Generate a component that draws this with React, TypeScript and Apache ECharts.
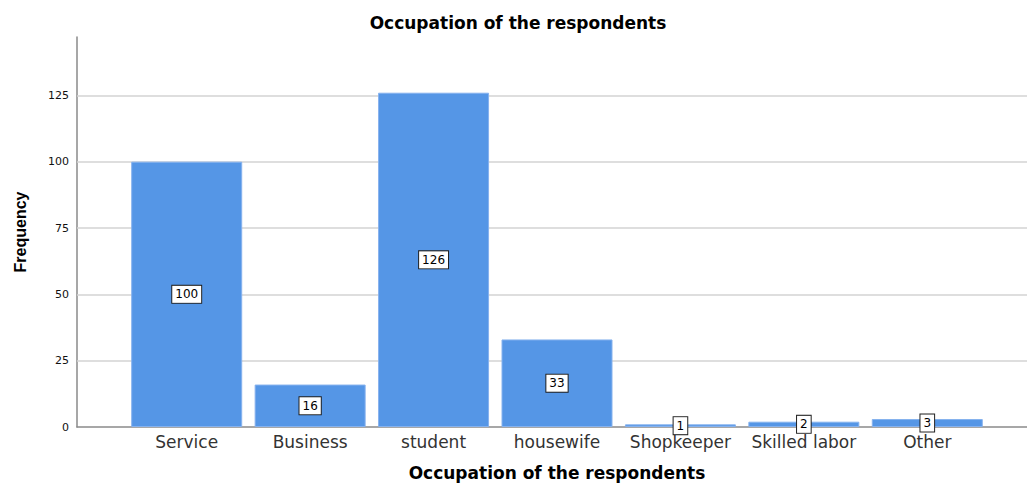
import React, { useEffect, useRef } from "react";
import * as echarts from "echarts";

const categories = ["Service", "Business", "student", "housewife", "Shopkeeper", "Skilled labor", "Other"];
const frequencies = [100, 16, 126, 33, 1, 2, 3];
const yTicks = [25, 50, 75, 100, 125];

export default function App() {
  const ref = useRef<HTMLDivElement>(null);
  useEffect(() => {
    document.body.style.margin = "0";
    const chart = echarts.init(ref.current!, null, { renderer: "svg" });
    const font = "'DejaVu Sans', sans-serif";
    const lfont = "'Liberation Sans', Arial, sans-serif";
    chart.setOption({
      animation: false,
      backgroundColor: "#fff",
      textStyle: { fontFamily: font },
      grid: [
        { left: 77, right: 0, top: 37, bottom: 56 },
        { left: 125, right: 38, top: 37, bottom: 56 },
      ],
      xAxis: [
        {
          type: "value", gridIndex: 0, min: 0, max: 1,
          axisLine: { show: true, onZero: false, lineStyle: { color: "#8a8a8a", width: 1.5 } },
          axisTick: { show: false }, axisLabel: { show: false }, splitLine: { show: false },
        },
        {
          type: "category", gridIndex: 1, data: categories,
          axisLine: { show: false }, axisTick: { show: false },
          axisLabel: { interval: 0, fontSize: 17, color: "#333", margin: 6, fontFamily: font },
        },
      ],
      yAxis: [
        {
          type: "value", gridIndex: 0, min: 0, max: 147, interval: 25,
          axisLine: { show: true, lineStyle: { color: "#8a8a8a", width: 1.5 } },
          axisTick: { show: false },
          axisLabel: { fontSize: 11, color: "#111", margin: 8, showMaxLabel: false, fontFamily: font },
          splitLine: { show: false },
        },
        {
          type: "value", gridIndex: 1, min: 0, max: 147,
          axisLine: { show: false }, axisTick: { show: false }, axisLabel: { show: false }, splitLine: { show: false },
        },
      ],
      series: [
        {
          type: "line", xAxisIndex: 0, yAxisIndex: 0, data: [], z: 1,
          markLine: {
            silent: true, symbol: "none", label: { show: false }, z: 1,
            lineStyle: { color: "#d3d3d3", width: 1.5, type: "solid" },
            data: yTicks.map((v) => ({ yAxis: v })),
          },
        },
        {
          type: "bar", xAxisIndex: 1, yAxisIndex: 1, data: frequencies, barWidth: 111,
          itemStyle: { color: "#5596e6", borderColor: "#86b2ee", borderWidth: 1 },
          label: {
            show: true, position: "inside", color: "#000", fontSize: 12, fontFamily: font,
            backgroundColor: "#fff", borderColor: "#222", borderWidth: 1, padding: [3, 3, 2, 3],
          },
          z: 5,
        },
      ],
      graphic: [
        {
          type: "text", x: 518, y: 23,
          style: { text: "Occupation of the respondents", font: `bold 17px ${font}`, fill: "#000", align: "center", verticalAlign: "middle" },
        },
        {
          type: "text", x: 557, y: 473,
          style: { text: "Occupation of the respondents", font: `bold 17px ${font}`, fill: "#000", align: "center", verticalAlign: "middle" },
        },
        {
          type: "text", x: 20, y: 232, rotation: Math.PI / 2,
          style: { text: "Frequency", font: `bold 16px ${lfont}`, fill: "#000", align: "center", verticalAlign: "middle" },
        },
      ],
    });
    return () => chart.dispose();
  }, []);
  return <div ref={ref} style={{ width: 1027, height: 483 }} />;
}
